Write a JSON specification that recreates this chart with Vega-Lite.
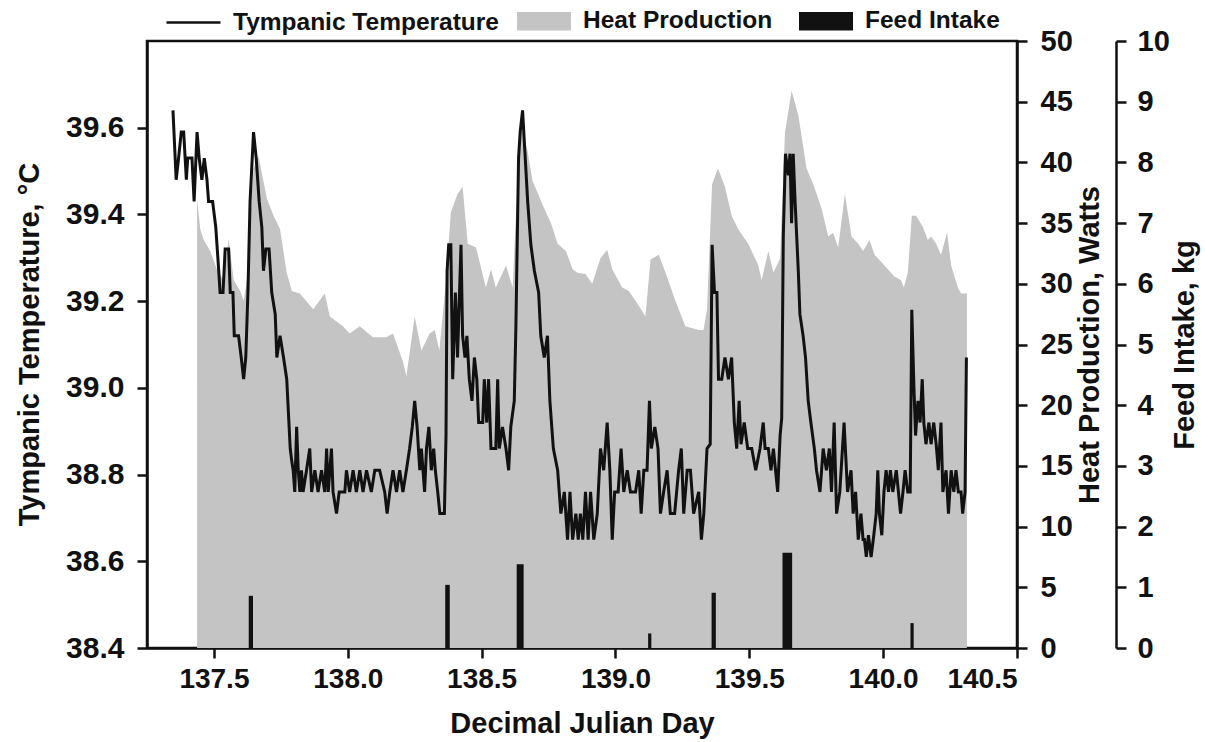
{
  "$schema": "https://vega.github.io/schema/vega-lite/v6.json",
  "width": 870,
  "height": 607,
  "autosize": "none",
  "padding": {"left": 147, "top": 41, "right": 188, "bottom": 94},
  "background": "white",
  "config": {
    "font": "Liberation Sans",
    "view": {"stroke": "#111", "strokeWidth": 2.5},
    "axis": {
      "labelFont": "Liberation Sans", "labelFontWeight": "bold", "labelFontSize": 29, "labelColor": "#111",
      "titleFont": "Liberation Sans", "titleFontWeight": "bold", "titleFontSize": 29, "titleColor": "#111",
      "domainColor": "#111", "domainWidth": 2.5, "tickColor": "#111", "tickWidth": 2.5, "tickSize": 10, "grid": false
    }
  },
  "datasets": {
    "temp": [
      {"d":137.347,"t":39.64},{"d":137.359,"t":39.48},{"d":137.368,"t":39.53},{"d":137.378,"t":39.59},{"d":137.387,"t":39.59},{"d":137.397,"t":39.48},{"d":137.402,"t":39.53},{"d":137.418,"t":39.53},{"d":137.426,"t":39.43},{"d":137.437,"t":39.59},{"d":137.445,"t":39.53},{"d":137.455,"t":39.48},{"d":137.464,"t":39.53},{"d":137.474,"t":39.48},{"d":137.480,"t":39.43},{"d":137.495,"t":39.43},{"d":137.507,"t":39.37},{"d":137.518,"t":39.27},{"d":137.523,"t":39.22},{"d":137.534,"t":39.22},{"d":137.542,"t":39.32},{"d":137.555,"t":39.32},{"d":137.561,"t":39.22},{"d":137.571,"t":39.22},{"d":137.576,"t":39.12},{"d":137.592,"t":39.12},{"d":137.602,"t":39.07},{"d":137.611,"t":39.02},{"d":137.619,"t":39.07},{"d":137.627,"t":39.22},{"d":137.635,"t":39.43},{"d":137.648,"t":39.59},{"d":137.658,"t":39.53},{"d":137.669,"t":39.43},{"d":137.679,"t":39.37},{"d":137.685,"t":39.27},{"d":137.694,"t":39.32},{"d":137.706,"t":39.32},{"d":137.716,"t":39.22},{"d":137.729,"t":39.17},{"d":137.735,"t":39.07},{"d":137.747,"t":39.12},{"d":137.760,"t":39.07},{"d":137.772,"t":39.02},{"d":137.785,"t":38.86},{"d":137.791,"t":38.83},
      {"d":137.796,"t":38.81},{"d":137.802,"t":38.76},{"d":137.809,"t":38.91},{"d":137.815,"t":38.81},{"d":137.821,"t":38.76},{"d":137.827,"t":38.81},{"d":137.833,"t":38.76},{"d":137.846,"t":38.81},{"d":137.858,"t":38.86},{"d":137.865,"t":38.76},{"d":137.877,"t":38.81},{"d":137.889,"t":38.76},{"d":137.902,"t":38.81},{"d":137.914,"t":38.76},{"d":137.921,"t":38.86},{"d":137.927,"t":38.76},{"d":137.939,"t":38.86},{"d":137.945,"t":38.76},{"d":137.958,"t":38.71},{"d":137.968,"t":38.76},{"d":137.989,"t":38.76},{"d":137.995,"t":38.81},{"d":138.007,"t":38.76},{"d":138.020,"t":38.81},{"d":138.032,"t":38.76},{"d":138.045,"t":38.81},{"d":138.057,"t":38.76},{"d":138.070,"t":38.81},{"d":138.088,"t":38.76},{"d":138.101,"t":38.81},{"d":138.119,"t":38.81},{"d":138.138,"t":38.76},{"d":138.147,"t":38.71},{"d":138.157,"t":38.76},{"d":138.169,"t":38.81},{"d":138.182,"t":38.76},{"d":138.194,"t":38.81},{"d":138.206,"t":38.76},{"d":138.219,"t":38.81},{"d":138.231,"t":38.86},{"d":138.241,"t":38.91},{"d":138.250,"t":38.97},{"d":138.259,"t":38.91},{"d":138.269,"t":38.81},{"d":138.275,"t":38.86},{"d":138.287,"t":38.76},{"d":138.294,"t":38.86},{"d":138.303,"t":38.91},{"d":138.312,"t":38.81},{"d":138.321,"t":38.86},
      {"d":138.327,"t":38.81},{"d":138.336,"t":38.76},{"d":138.344,"t":38.71},{"d":138.361,"t":38.71},{"d":138.367,"t":38.89},{"d":138.371,"t":39.27},{"d":138.377,"t":39.33},{"d":138.385,"t":39.33},{"d":138.392,"t":39.02},{"d":138.402,"t":39.22},{"d":138.410,"t":39.07},{"d":138.423,"t":39.33},{"d":138.429,"t":39.12},{"d":138.438,"t":39.07},{"d":138.445,"t":39.12},{"d":138.454,"t":39.02},{"d":138.464,"t":38.97},{"d":138.473,"t":39.07},{"d":138.482,"t":39.02},{"d":138.489,"t":38.92},{"d":138.504,"t":38.92},{"d":138.510,"t":39.02},{"d":138.519,"t":38.92},{"d":138.526,"t":39.02},{"d":138.535,"t":38.86},{"d":138.553,"t":38.86},{"d":138.560,"t":39.02},{"d":138.566,"t":38.86},{"d":138.578,"t":38.91},{"d":138.591,"t":38.86},{"d":138.601,"t":38.81},{"d":138.609,"t":38.91},{"d":138.622,"t":38.97},{"d":138.628,"t":39.14},{"d":138.638,"t":39.53},{"d":138.644,"t":39.59},{"d":138.653,"t":39.64},{"d":138.663,"t":39.53},{"d":138.672,"t":39.43},{"d":138.684,"t":39.33},{"d":138.697,"t":39.27},{"d":138.713,"t":39.22},{"d":138.721,"t":39.12},{"d":138.734,"t":39.07},{"d":138.746,"t":39.12},{"d":138.755,"t":38.97},{"d":138.768,"t":38.86},{"d":138.784,"t":38.81},{"d":138.796,"t":38.71},{"d":138.809,"t":38.76},{"d":138.821,"t":38.65},{"d":138.830,"t":38.76},{"d":138.840,"t":38.65},{"d":138.852,"t":38.71},
      {"d":138.861,"t":38.65},{"d":138.869,"t":38.71},{"d":138.878,"t":38.65},{"d":138.888,"t":38.76},{"d":138.898,"t":38.65},{"d":138.907,"t":38.76},{"d":138.919,"t":38.65},{"d":138.932,"t":38.71},{"d":138.944,"t":38.86},{"d":138.956,"t":38.81},{"d":138.969,"t":38.92},{"d":138.979,"t":38.81},{"d":138.988,"t":38.65},{"d":138.997,"t":38.76},{"d":139.010,"t":38.76},{"d":139.021,"t":38.86},{"d":139.031,"t":38.76},{"d":139.044,"t":38.81},{"d":139.056,"t":38.76},{"d":139.075,"t":38.76},{"d":139.087,"t":38.81},{"d":139.096,"t":38.71},{"d":139.106,"t":38.81},{"d":139.118,"t":38.81},{"d":139.127,"t":38.97},{"d":139.134,"t":38.86},{"d":139.147,"t":38.91},{"d":139.159,"t":38.86},{"d":139.168,"t":38.71},{"d":139.180,"t":38.76},{"d":139.193,"t":38.81},{"d":139.205,"t":38.71},{"d":139.221,"t":38.71},{"d":139.236,"t":38.81},{"d":139.246,"t":38.86},{"d":139.255,"t":38.71},{"d":139.268,"t":38.81},{"d":139.280,"t":38.81},{"d":139.292,"t":38.71},{"d":139.311,"t":38.76},{"d":139.321,"t":38.65},{"d":139.330,"t":38.71},{"d":139.342,"t":38.86},{"d":139.354,"t":38.87},{"d":139.361,"t":39.33},{"d":139.370,"t":39.22},{"d":139.379,"t":39.22},{"d":139.385,"t":39.02},
      {"d":139.397,"t":39.02},{"d":139.409,"t":39.07},{"d":139.422,"t":39.02},{"d":139.434,"t":39.07},{"d":139.444,"t":38.92},{"d":139.453,"t":38.86},{"d":139.462,"t":38.97},{"d":139.469,"t":38.87},{"d":139.481,"t":38.92},{"d":139.494,"t":38.86},{"d":139.509,"t":38.86},{"d":139.524,"t":38.81},{"d":139.540,"t":38.86},{"d":139.552,"t":38.92},{"d":139.559,"t":38.86},{"d":139.571,"t":38.86},{"d":139.581,"t":38.81},{"d":139.590,"t":38.86},{"d":139.598,"t":38.81},{"d":139.606,"t":38.76},{"d":139.615,"t":38.89},{"d":139.621,"t":38.93},{"d":139.627,"t":39.35},{"d":139.635,"t":39.54},{"d":139.646,"t":39.49},{"d":139.652,"t":39.54},{"d":139.658,"t":39.38},{"d":139.664,"t":39.54},{"d":139.671,"t":39.43},{"d":139.683,"t":39.27},{"d":139.689,"t":39.17},{"d":139.701,"t":39.12},{"d":139.710,"t":39.07},{"d":139.720,"t":38.97},{"d":139.730,"t":38.92},{"d":139.743,"t":38.86},{"d":139.751,"t":38.81},{"d":139.764,"t":38.76},{"d":139.776,"t":38.86},{"d":139.788,"t":38.81},{"d":139.799,"t":38.86},{"d":139.807,"t":38.76},{"d":139.817,"t":38.92},{"d":139.826,"t":38.71},{"d":139.838,"t":38.76},{"d":139.854,"t":38.92},{"d":139.867,"t":38.76},{"d":139.880,"t":38.81},{"d":139.888,"t":38.71},{"d":139.897,"t":38.76},{"d":139.907,"t":38.65},{"d":139.917,"t":38.71},{"d":139.925,"t":38.65},
      {"d":139.930,"t":38.65},{"d":139.937,"t":38.61},{"d":139.945,"t":38.66},{"d":139.955,"t":38.61},{"d":139.965,"t":38.66},{"d":139.974,"t":38.71},{"d":139.980,"t":38.81},{"d":139.986,"t":38.71},{"d":139.995,"t":38.66},{"d":140.003,"t":38.76},{"d":140.011,"t":38.81},{"d":140.020,"t":38.76},{"d":140.027,"t":38.81},{"d":140.036,"t":38.76},{"d":140.049,"t":38.81},{"d":140.057,"t":38.76},{"d":140.065,"t":38.71},{"d":140.074,"t":38.76},{"d":140.082,"t":38.81},{"d":140.092,"t":38.76},{"d":140.101,"t":38.76},{"d":140.107,"t":39.18},{"d":140.115,"t":39.00},{"d":140.121,"t":38.89},{"d":140.130,"t":38.97},{"d":140.138,"t":38.92},{"d":140.146,"t":39.02},{"d":140.152,"t":38.92},{"d":140.160,"t":38.87},{"d":140.171,"t":38.92},{"d":140.179,"t":38.87},{"d":140.189,"t":38.92},{"d":140.198,"t":38.87},{"d":140.206,"t":38.81},{"d":140.216,"t":38.92},{"d":140.223,"t":38.76},{"d":140.235,"t":38.81},{"d":140.244,"t":38.71},{"d":140.254,"t":38.81},{"d":140.264,"t":38.76},{"d":140.272,"t":38.81},{"d":140.281,"t":38.76},{"d":140.291,"t":38.76},{"d":140.297,"t":38.71},{"d":140.306,"t":38.76},{"d":140.311,"t":39.07}
    ],
    "heat": [
      {"d":137.437,"w":0},{"d":137.4371,"w":37.0},{"d":137.449,"w":34.5},{"d":137.462,"w":33.6},{"d":137.486,"w":32.7},{"d":137.511,"w":31.2},{"d":137.536,"w":30.3},{"d":137.555,"w":33.7},{"d":137.574,"w":30.3},{"d":137.598,"w":29.4},{"d":137.611,"w":28.6},{"d":137.623,"w":30.3},{"d":137.648,"w":39.5},{"d":137.667,"w":40.5},{"d":137.679,"w":39.1},{"d":137.698,"w":37.0},{"d":137.723,"w":35.6},{"d":137.747,"w":34.5},{"d":137.772,"w":30.9},{"d":137.791,"w":29.4},{"d":137.821,"w":29.2},{"d":137.871,"w":27.9},{"d":137.914,"w":29.2},{"d":137.933,"w":27.3},{"d":137.982,"w":26.5},{"d":138.007,"w":25.9},{"d":138.045,"w":26.5},{"d":138.094,"w":25.6},{"d":138.144,"w":25.6},{"d":138.169,"w":25.9},{"d":138.206,"w":23.6},{"d":138.219,"w":22.4},{"d":138.25,"w":27.3},{"d":138.275,"w":24.5},{"d":138.306,"w":25.9},{"d":138.325,"w":26.2},{"d":138.342,"w":24.5},{"d":138.367,"w":30.3},{"d":138.385,"w":35.9},{"d":138.41,"w":37.4},{"d":138.429,"w":38.0},{"d":138.448,"w":33.3},{"d":138.479,"w":33.0},{"d":138.516,"w":29.7},{"d":138.535,"w":31.2},{"d":138.553,"w":29.7},{"d":138.591,"w":31.5},{"d":138.616,"w":29.7},{"d":138.628,"w":35.5},{"d":138.647,"w":43.0},{"d":138.672,"w":40.9},{"d":138.69,"w":38.5},{"d":138.728,"w":36.5},{"d":138.759,"w":35.0},{"d":138.784,"w":33.3},{"d":138.815,"w":32.7},{"d":138.84,"w":31.2},{"d":138.858,"w":30.9},{"d":138.888,"w":30.8},{"d":138.913,"w":30.0},{"d":138.944,"w":32.1},{"d":138.969,"w":32.8},{"d":138.988,"w":31.2},{"d":139.025,"w":29.7},{"d":139.05,"w":29.4},{"d":139.087,"w":28.2},{"d":139.112,"w":27.3},{"d":139.131,"w":32.0},{"d":139.162,"w":32.4},{"d":139.187,"w":30.9},{"d":139.224,"w":28.6},{"d":139.261,"w":26.5},{"d":139.311,"w":26.2},{"d":139.329,"w":26.2},{"d":139.342,"w":27.9},{"d":139.361,"w":38.2},{"d":139.383,"w":39.5},{"d":139.409,"w":38.0},{"d":139.434,"w":35.6},{"d":139.459,"w":34.5},{"d":139.496,"w":33.3},{"d":139.534,"w":31.5},{"d":139.546,"w":30.3},{"d":139.571,"w":32.7},{"d":139.59,"w":30.9},{"d":139.615,"w":32.1},{"d":139.633,"w":42.4},{"d":139.658,"w":45.9},{"d":139.683,"w":43.9},{"d":139.714,"w":39.5},{"d":139.739,"w":38.2},{"d":139.77,"w":36.2},{"d":139.795,"w":33.9},{"d":139.813,"w":34.2},{"d":139.832,"w":33.0},{"d":139.857,"w":37.4},{"d":139.882,"w":33.9},{"d":139.907,"w":33.3},{"d":139.925,"w":32.7},{"d":139.949,"w":33.6},{"d":139.968,"w":32.4},{"d":140.005,"w":31.5},{"d":140.042,"w":30.6},{"d":140.067,"w":30.3},{"d":140.077,"w":29.7},{"d":140.092,"w":30.9},{"d":140.107,"w":35.6},{"d":140.123,"w":35.6},{"d":140.148,"w":34.7},{"d":140.167,"w":33.6},{"d":140.179,"w":33.9},{"d":140.198,"w":33.3},{"d":140.216,"w":32.4},{"d":140.239,"w":34.2},{"d":140.254,"w":31.5},{"d":140.279,"w":29.7},{"d":140.291,"w":29.2},{"d":140.3129,"w":29.2},{"d":140.313,"w":0}
    ],
    "feed": [
      {"d0":137.630,"d1":137.646,"kg":0.86},
      {"d0":138.364,"d1":138.381,"kg":1.04},
      {"d0":138.631,"d1":138.657,"kg":1.38},
      {"d0":139.122,"d1":139.134,"kg":0.24},
      {"d0":139.359,"d1":139.375,"kg":0.91},
      {"d0":139.624,"d1":139.660,"kg":1.57},
      {"d0":140.102,"d1":140.114,"kg":0.41}
    ]
  },
  "encoding": {
    "x": {
      "field": "d", "type": "quantitative",
      "scale": {"domain": [137.25, 140.5], "nice": false, "zero": false},
      "axis": {"values": [137.5, 138, 138.5, 139, 139.5, 140, 140.5], "format": ".1f", "title": "Decimal Julian Day", "labelFontSize": 28, "labelPadding": 7, "titlePadding": 16}
    }
  },
  "layer": [
    {
      "data": {"name": "heat"},
      "mark": {"type": "area", "interpolate": "linear", "color": "#c4c4c4"},
      "encoding": {
        "y": {"field": "w", "type": "quantitative", "scale": {"domain": [0, 50], "nice": false},
          "axis": {"orient": "right", "values": [0,5,10,15,20,25,30,35,40,45,50], "title": "Heat Production, Watts", "titleAngle": 270, "titleBaseline": "top", "labelPadding": 13, "titlePadding": 3}},
        "fill": {"datum": "Heat Production", "type": "nominal",
          "scale": {"domain": ["Heat Production", "Feed Intake"], "range": ["#c4c4c4", "#111111"]},
          "legend": {"orient": "none", "legendX": 370, "legendY": -47, "direction": "horizontal", "title": null,
            "symbolType": "M-1,-0.34H1V0.34H-1Z", "symbolSize": 2916, "symbolStrokeWidth": 0, "symbolOpacity": 1,
            "labelFont": "Liberation Sans", "labelFontWeight": "bold", "labelFontSize": 24.5, "labelColor": "#111", "labelLimit": 400, "labelOffset": 12, "columnPadding": 26}}
      }
    },
    {
      "data": {"name": "feed"},
      "mark": {"type": "rect"},
      "encoding": {
        "x": {"field": "d0", "type": "quantitative"},
        "x2": {"field": "d1"},
        "y": {"field": "kg", "type": "quantitative", "scale": {"domain": [0, 10], "nice": false},
          "axis": {"orient": "right", "offset": 99, "values": [0,1,2,3,4,5,6,7,8,9,10], "title": "Feed Intake, kg", "titleAngle": 270, "titleBaseline": "top", "labelPadding": 11, "titlePadding": 1}},
        "y2": {"datum": 0},
        "fill": {"datum": "Feed Intake", "type": "nominal"}
      }
    },
    {
      "data": {"name": "temp"},
      "mark": {"type": "line", "strokeWidth": 3, "interpolate": "linear"},
      "encoding": {
        "y": {"field": "t", "type": "quantitative", "scale": {"domain": [38.4, 39.8], "nice": false, "zero": false},
          "axis": {"orient": "left", "values": [38.4, 38.6, 38.8, 39.0, 39.2, 39.4, 39.6], "format": ".1f", "title": "Tympanic Temperature, °C", "labelFontSize": 30, "labelPadding": 13, "titleX": -103, "titleY": 303, "titleAngle": 270, "titleBaseline": "bottom", "titleAlign": "center"}},
        "stroke": {"datum": "Tympanic Temperature", "type": "nominal",
          "scale": {"domain": ["Tympanic Temperature"], "range": ["#111111"]},
          "legend": {"orient": "none", "legendX": 18, "legendY": -47, "direction": "horizontal", "title": null,
            "symbolType": "stroke", "symbolSize": 2916, "symbolStrokeWidth": 2.5,
            "labelFont": "Liberation Sans", "labelFontWeight": "bold", "labelFontSize": 24.5, "labelColor": "#111", "labelLimit": 400, "labelOffset": 11}}
      }
    }
  ],
  "resolve": {"scale": {"y": "independent"}}
}
